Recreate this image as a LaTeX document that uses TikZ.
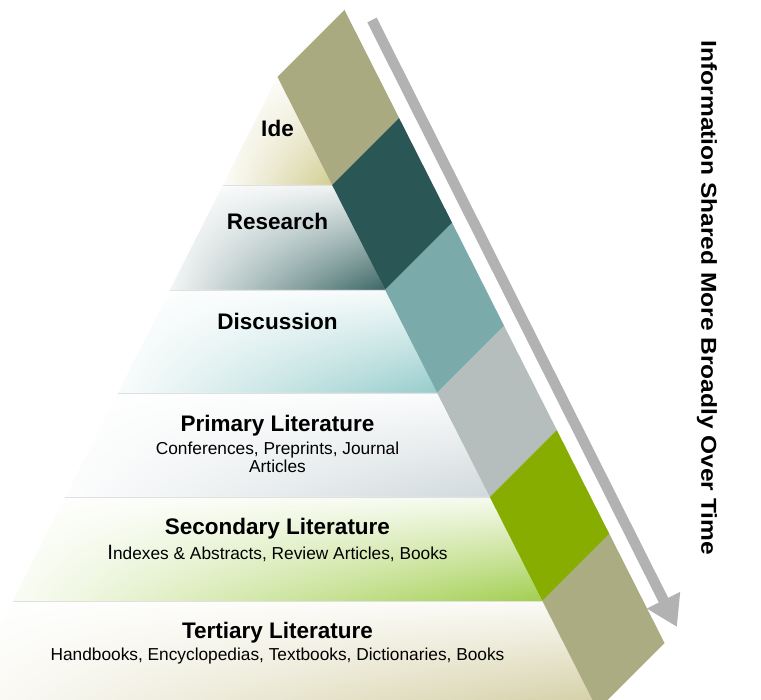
\documentclass[tikz,border=0pt]{standalone}
\usepackage{fontspec}
\setmainfont{Liberation Sans}
\usepackage{tikz}
\usetikzlibrary{calc,positioning,arrows.meta,shadings}

\definecolor{olivebox}{HTML}{A9AA80}
\definecolor{darkbox}{HTML}{2A5755}
\definecolor{tealbox}{HTML}{7AABAA}
\definecolor{greybox}{HTML}{B5BDBD}
\definecolor{greenbox}{HTML}{86AD00}
\definecolor{tanbox}{HTML}{ABAC82}
\definecolor{flowgrey}{HTML}{B2B2B2}
% shades of the bands
\definecolor{ideshade}{HTML}{D2CD92}
\definecolor{researchshade}{HTML}{3A6665}
\definecolor{discussionshade}{HTML}{96CCCC}
\definecolor{primaryshade}{HTML}{D0D9DC}
\definecolor{secondaryshade}{HTML}{A2CE50}
\definecolor{tertiaryshade}{HTML}{D2CCA0}

\tikzset{
	band/.style={upper left=white,upper right=#1!10,lower left=#1!6,lower right=#1},
	sepline/.style={draw=black!12,line width=0.8pt},
	title/.style={anchor=base,font=\fontsize{22.5}{24}\selectfont\bfseries},
	sub/.style={inner sep=0pt,align=center,font=\fontsize{17.3}{16}\selectfont},
	flow/.style={draw=flowgrey,line width=10.5pt,-{Triangle[width=35pt,length=30pt]}},
}

\begin{document}
\begin{tikzpicture}[x=1pt,y=-1pt]
		\useasboundingbox (0,0) rectangle (761,700);
		\clip (0,0) rectangle (761,700);
		% corners of the pyramid
		\coordinate (A)  at (277.5,77);
		\coordinate (L1) at (222.9,185); \coordinate (R1) at (332.1,185);
		\coordinate (L2) at (169.8,290); \coordinate (R2) at (385.2,290);
		\coordinate (L3) at (117.8,393); \coordinate (R3) at (437.2,393);
		\coordinate (L4) at (65.2,497);  \coordinate (R4) at (489.8,497);
		\coordinate (L5) at (12.6,601);  \coordinate (R5) at (542.4,601);
		\coordinate (L6) at (-42.5,710); \coordinate (R6) at (597.5,710);
		\begin{scope}
			\shade[band=ideshade]        (A) -- (R1) -- (L1) -- cycle;
			\shade[band=researchshade]   (L1) -- (R1) -- (R2) -- (L2) -- cycle;
			\shade[band=discussionshade] (L2) -- (R2) -- (R3) -- (L3) -- cycle;
			\shade[band=primaryshade]    (L3) -- (R3) -- (R4) -- (L4) -- cycle;
			\shade[band=secondaryshade]  (L4) -- (R4) -- (R5) -- (L5) -- cycle;
			\shade[band=tertiaryshade]   (L5) -- (R5) -- (R6) -- (L6) -- cycle;
			\path[sepline] (L1) -- (R1) (L2) -- (R2) (L3) -- (R3) (L4) -- (R4) (L5) -- (R5);
		\end{scope}
		% the slanted strip
		\begin{scope}
			\fill[olivebox] (A) -- (R1) -- ($(R1)+(67,-67)$) -- ($(A)+(67,-67)$) -- cycle;
			\fill[darkbox]  (R1) -- (R2) -- ($(R2)+(67,-67)$) -- ($(R1)+(67,-67)$) -- cycle;
			\fill[tealbox]  (R2) -- (R3) -- ($(R3)+(67,-67)$) -- ($(R2)+(67,-67)$) -- cycle;
			\fill[greybox]  (R3) -- (R4) -- ($(R4)+(67,-67)$) -- ($(R3)+(67,-67)$) -- cycle;
			\fill[greenbox] (R4) -- (R5) -- ($(R5)+(67,-67)$) -- ($(R4)+(67,-67)$) -- cycle;
			\fill[tanbox]   (R5) -- (R6) -- ($(R6)+(67,-67)$) -- ($(R5)+(67,-67)$) -- cycle;
		\end{scope}
		% labels
		\node(ide) [title] at (277.5,137) {Ide};
		\node(research) [title] at (277.5,230) {Research};
		\node(discussion) [title] at (277.5,330) {Discussion};
		\node(primary) [title] at (277.5,432) {Primary Literature};
		\node(primarysub) [sub,below=2pt of primary] {Conferences, Preprints, Journal\\Articles};
		\node(secondary) [title] at (277.5,535) {Secondary Literature};
		\node(secondarysub) [sub,below=2pt of secondary] {{\fontsize{20.7}{20}\selectfont I}ndexes \& Abstracts, Review Articles, Books};
		\node(tertiary) [title] at (277.5,638) {Tertiary Literature};
		\node(tertiarysub) [sub,below=2pt of tertiary] {Handbooks, Encyclopedias, Textbooks, Dictionaries, Books};
		% arrow
		\coordinate (start) at (372,20);
		\coordinate (end) at (677,627);
		\path[flow] (start) -- (end);
		\node(shared) [rotate=-90,yscale=0.88,font=\fontsize{24.5}{26}\selectfont\bfseries] at (707,298) {Information Shared More Broadly Over Time};
	\end{tikzpicture}
\end{document}
